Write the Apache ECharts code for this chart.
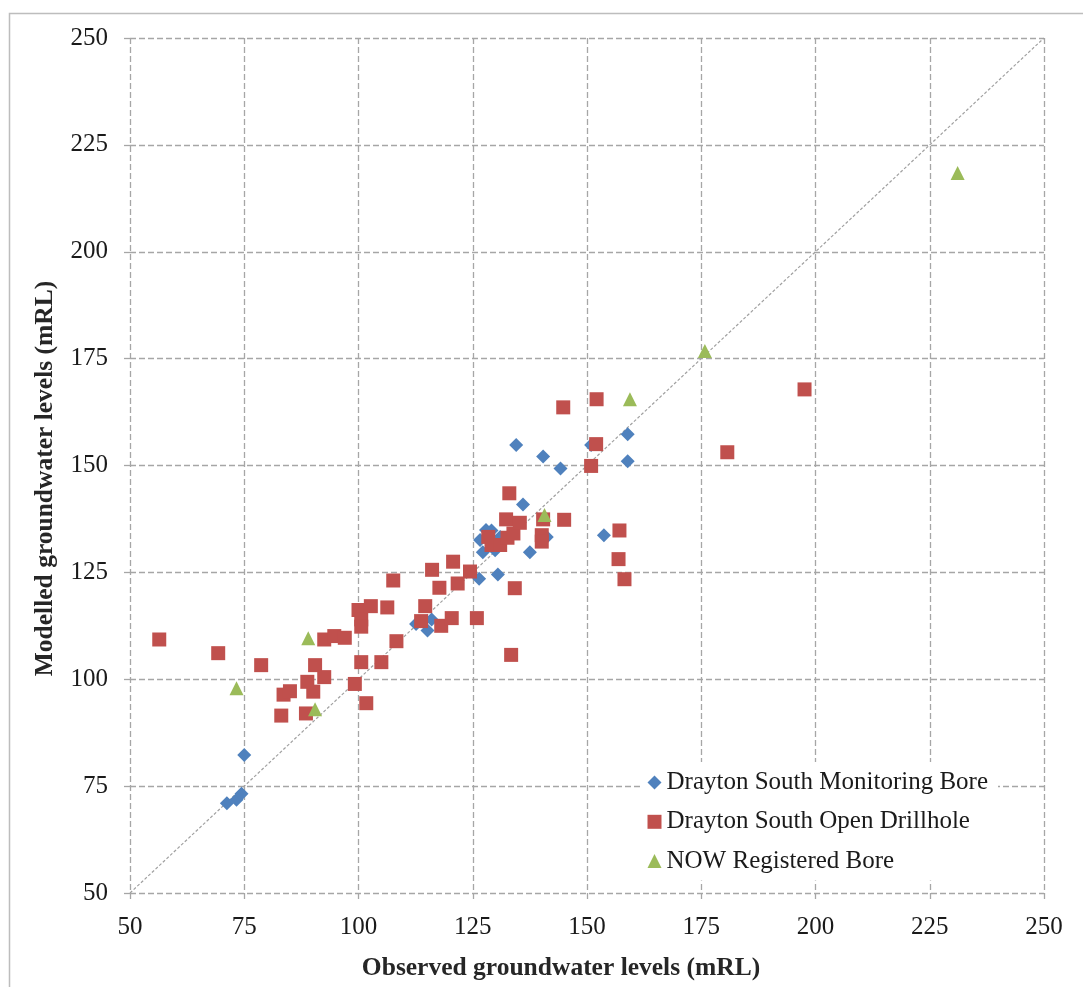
<!DOCTYPE html>
<html>
<head>
<meta charset="utf-8">
<script src="https://cdn.jsdelivr.net/npm/echarts@6/dist/echarts.min.js"></script>
<style>
  html, body { margin: 0; padding: 0; background: #ffffff; }
  #chart { width: 1083px; height: 987px; }
</style>
</head>
<body>
<div id="chart"></div>
<script>
// Observed vs modelled groundwater levels (mRL), [observed, modelled]
const monitoringBore = [
  [71.2, 71.0], [73.3, 71.8], [74.4, 73.2], [75.0, 82.3],
  [112.6, 112.9], [116.0, 114.0], [115.1, 111.4],
  [126.4, 123.5], [127.2, 129.7], [126.6, 132.6], [127.9, 134.9], [129.1, 134.8],
  [129.9, 130.2], [131.0, 133.3], [130.5, 124.5], [134.5, 154.8], [136.0, 140.9],
  [137.5, 129.7], [140.4, 152.1], [141.2, 133.3], [144.2, 149.3], [150.9, 154.8],
  [153.7, 133.7], [158.9, 157.3], [158.9, 151.0]
];
const openDrillhole = [
  [56.4, 109.3], [69.3, 106.1], [78.7, 103.3], [83.1, 91.5], [83.6, 96.4],
  [85.0, 97.2], [88.5, 92.0], [88.8, 99.4], [90.1, 97.1], [90.5, 103.3],
  [92.5, 100.5], [92.5, 109.3], [94.7, 110.1], [97.0, 109.7], [99.2, 98.9],
  [100.0, 116.2], [100.6, 114.0], [100.6, 112.3], [100.6, 104.0], [101.7, 94.4],
  [102.7, 117.1], [105.0, 104.0], [106.3, 116.8], [107.6, 123.1], [108.3, 108.9],
  [113.7, 113.6], [114.6, 117.1], [116.1, 125.6], [117.7, 121.4], [118.1, 112.5],
  [120.4, 114.3], [120.7, 127.5], [121.7, 122.4], [124.4, 125.2], [125.9, 114.3],
  [128.4, 133.3], [129.1, 131.4], [131.0, 131.4], [132.3, 137.4], [132.6, 133.1],
  [133.0, 143.5], [133.4, 105.7], [133.9, 134.1], [134.2, 121.3], [135.3, 136.6],
  [140.1, 133.7], [140.1, 132.2], [140.4, 137.4], [144.8, 163.6], [145.0, 137.3],
  [150.9, 149.9], [152.0, 155.0], [152.1, 165.5], [156.9, 128.1], [157.1, 134.8],
  [158.2, 123.4], [180.7, 153.1], [197.6, 167.8]
];
const nowBore = [
  [73.3, 97.9], [89.0, 109.6], [90.5, 93.0], [140.7, 138.4],
  [159.4, 165.5], [175.8, 176.8], [231.1, 218.4]
];
// 1:1 reference line
const oneToOne = [[50, 50], [250, 250]];

const seriesNames = [
  'Drayton South Monitoring Bore',
  'Drayton South Open Drillhole',
  'NOW Registered Bore'
];
const axisMin = 50, axisMax = 250, axisStep = 25;

const FONT = "'Liberation Serif', 'Times New Roman', serif";
const gridDash = { color: '#a6a6a6', width: 1.3, type: [6, 3] };
const titleStyle = { fontFamily: FONT, fontSize: 25.5, fontWeight: 'bold', color: '#262626' };

const chart = echarts.init(document.getElementById('chart'), null, { renderer: 'canvas' });

function valueAxis(name, extra) {
  return Object.assign({
    type: 'value',
    min: axisMin,
    max: axisMax,
    interval: axisStep,
    name: name,
    nameLocation: 'middle',
    axisLine: { show: false },
    axisTick: { show: true, length: 6, lineStyle: gridDash },
    splitLine: { show: true, lineStyle: gridDash }
  }, extra);
}

chart.setOption({
  animation: false,
  backgroundColor: '#ffffff',
  graphic: [{
    type: 'rect',
    shape: { x: 9.5, y: 13.5, width: 1200, height: 1100 },
    style: { fill: 'none', stroke: '#bdbdbd', lineWidth: 1.5 },
    silent: true,
    z: 0
  }],
  grid: { left: 130, right: 39, top: 38, bottom: 94, containLabel: false },
  xAxis: valueAxis('Observed groundwater levels (mRL)', {
    nameGap: 62,
    nameTextStyle: Object.assign({}, titleStyle, { padding: [0, 52, 0, 0] }),
    axisLabel: { fontFamily: FONT, fontSize: 25, color: '#1a1a1a', margin: 22 }
  }),
  yAxis: valueAxis('Modelled groundwater levels (mRL)', {
    nameGap: 72,
    nameTextStyle: Object.assign({}, titleStyle, { padding: [0, 26, 0, 0] }),
    axisLabel: { fontFamily: FONT, fontSize: 25, color: '#1a1a1a', margin: 22 }
  }),
  legend: {
    data: seriesNames,
    orient: 'vertical',
    left: 640,
    top: 762,
    padding: [8, 10, 7, 7.5],
    backgroundColor: '#ffffff',
    itemWidth: 14,
    itemHeight: 14,
    itemGap: 14.3,
    textStyle: { fontFamily: FONT, fontSize: 25, color: '#1a1a1a', lineHeight: 24 },
    z: 10
  },
  series: [
    {
      name: seriesNames[0],
      type: 'scatter',
      data: monitoringBore,
      symbol: 'diamond',
      symbolSize: 14,
      itemStyle: { color: '#4f81bd', opacity: 1 },
      z: 3
    },
    {
      name: seriesNames[1],
      type: 'scatter',
      data: openDrillhole,
      symbol: 'rect',
      symbolSize: 14,
      itemStyle: { color: '#c0504d', opacity: 1 },
      z: 4
    },
    {
      name: seriesNames[2],
      type: 'scatter',
      data: nowBore,
      symbol: 'triangle',
      symbolSize: 14,
      itemStyle: { color: '#9bbb59', opacity: 1 },
      z: 5
    },
    {
      name: '1:1',
      type: 'line',
      data: oneToOne,
      symbol: 'none',
      lineStyle: { color: '#a0a0a0', width: 1.2, type: [3, 2] },
      z: 2,
      silent: true
    }
  ]
});
</script>
</body>
</html>
